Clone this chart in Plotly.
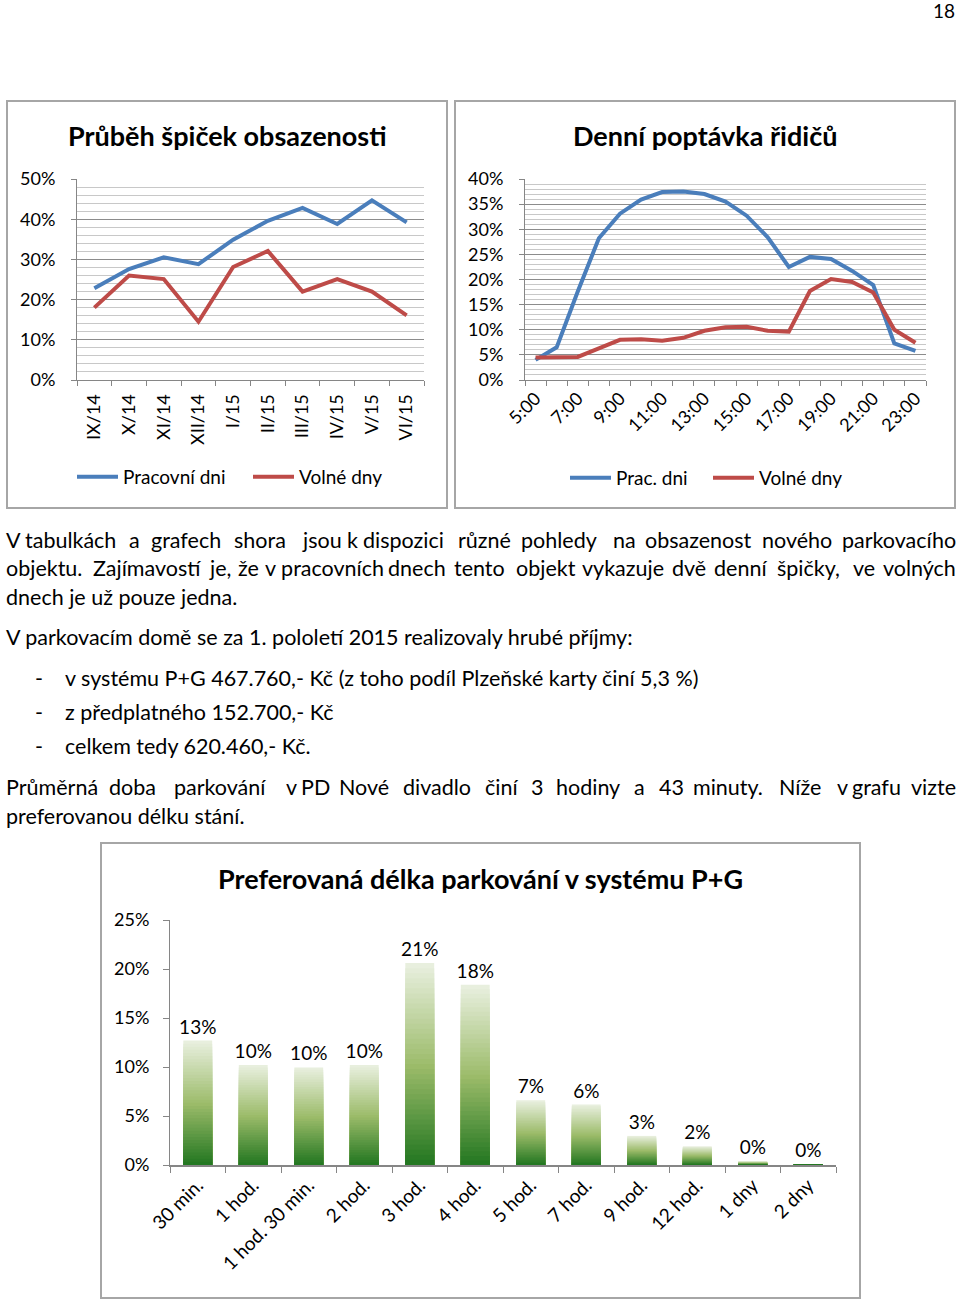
import plotly.graph_objects as go

# ---------------- data ----------------
months = ["IX/14", "X/14", "XI/14", "XII/14", "I/15", "II/15", "III/15", "IV/15", "V/15", "VI/15"]
peak_work = [0.228, 0.276, 0.305, 0.288, 0.349, 0.396, 0.428, 0.388, 0.447, 0.392]
peak_free = [0.180, 0.260, 0.251, 0.145, 0.281, 0.321, 0.220, 0.251, 0.220, 0.161]

hours = ["5:00", "6:00", "7:00", "8:00", "9:00", "10:00", "11:00", "12:00", "13:00", "14:00",
         "15:00", "16:00", "17:00", "18:00", "19:00", "20:00", "21:00", "22:00", "23:00"]
hour_labels = ["5:00", "", "7:00", "", "9:00", "", "11:00", "", "13:00", "", "15:00", "",
               "17:00", "", "19:00", "", "21:00", "", "23:00"]
demand_work = [0.040, 0.065, 0.176, 0.282, 0.331, 0.359, 0.374, 0.375, 0.370, 0.355,
               0.327, 0.284, 0.225, 0.245, 0.241, 0.217, 0.189, 0.073, 0.058]
demand_free = [0.045, 0.045, 0.046, 0.063, 0.080, 0.081, 0.078, 0.084, 0.098, 0.105,
               0.106, 0.098, 0.096, 0.177, 0.201, 0.195, 0.174, 0.100, 0.074]

durations = ["30 min.", "1 hod.", "1 hod. 30 min.", "2 hod.", "3 hod.", "4 hod.", "5 hod.",
             "7 hod.", "9 hod.", "12 hod.", "1 dny", "2 dny"]
duration_share = [0.127, 0.102, 0.0996, 0.102, 0.206, 0.184, 0.066, 0.0617, 0.0297, 0.019, 0.0037, 0.0005]

# ---------------- helpers ----------------
W, H = 960, 1300
FONT = "Lato, 'Open Sans', sans-serif"
BLUE = "#4A7EBB"
RED = "#BE4B48"
AXIS = "#868686"


def px(x):
    return x / W


def py(y):
    return 1 - y / H


fig = go.Figure()

# chart 1 lines
fig.add_trace(go.Scatter(x=months, y=peak_work, mode="lines", name="Pracovní dni",
                         line=dict(color=BLUE, width=4), xaxis="x", yaxis="y", legend="legend"))
fig.add_trace(go.Scatter(x=months, y=peak_free, mode="lines", name="Volné dny",
                         line=dict(color=RED, width=4), xaxis="x", yaxis="y", legend="legend3"))

# chart 2 lines
fig.add_trace(go.Scatter(x=hours, y=demand_work, mode="lines", name="Prac. dni",
                         line=dict(color=BLUE, width=4), xaxis="x2", yaxis="y2", legend="legend2"))
fig.add_trace(go.Scatter(x=hours, y=demand_free, mode="lines", name="Volné dny",
                         line=dict(color=RED, width=4), xaxis="x2", yaxis="y2", legend="legend4"))

# chart 3 gradient bars (overlaid layers of decreasing height)
stops = [(0.0, (30, 116, 30)), (0.5, (155, 187, 105)), (1.0, (232, 239, 222))]


def grad(f):
    for (f0, c0), (f1, c1) in zip(stops[:-1], stops[1:]):
        if f0 <= f <= f1:
            t = (f - f0) / (f1 - f0)
            return "rgb(%d,%d,%d)" % tuple(round(a + (b - a) * t) for a, b in zip(c0, c1))
    return "rgb(%d,%d,%d)" % stops[-1][1]


N = 40
for k in range(N):
    f = 1 - k / N
    fig.add_trace(go.Bar(
        x=durations, y=[v * f for v in duration_share],
        marker=dict(color=grad(f), line=dict(width=0)),
        xaxis="x3", yaxis="y3", showlegend=False, hoverinfo="skip",
        text=[f"{v:.0%}" for v in duration_share] if k == 0 else None,
        textposition="outside" if k == 0 else "none",
        constraintext="none",
        textfont=dict(size=19, color="black", family=FONT),
        cliponaxis=False,
    ))

tickfont = dict(size=18, color="black", family=FONT)


def legend_at(x_line, y):
    return dict(orientation="h", x=px(x_line - 5), y=py(y), xanchor="left", yanchor="middle",
                font=dict(size=19, family=FONT), bgcolor="rgba(0,0,0,0)", itemwidth=41)


fig.update_layout(
    width=W, height=H, autosize=False,
    margin=dict(l=0, r=0, t=0, b=0, pad=0, autoexpand=False),
    paper_bgcolor="white", plot_bgcolor="white",
    font=dict(family=FONT, color="black"),
    barmode="overlay", bargap=0.48,
    xaxis=dict(domain=[px(77), px(424)], anchor="y", type="category",
               tickson="boundaries", ticks="outside", ticklen=5, tickcolor=AXIS,
               showline=True, linecolor=AXIS, showgrid=False, tickangle=-90,
               tickfont=tickfont, ticklabelstandoff=6, range=[-0.5, 9.5], automargin=False),
    yaxis=dict(domain=[py(380), py(179)], anchor="x", range=[0, 0.5], dtick=0.1,
               tickformat=".0%", showline=True, linecolor=AXIS, ticks="outside",
               ticklen=5, tickcolor=AXIS, showgrid=True, gridcolor="#8c8c8c",
               gridwidth=1, zeroline=False, tickfont=tickfont, ticklabelstandoff=12,
               automargin=False,
               minor=dict(dtick=0.02, showgrid=True, gridcolor="#c8c8c8", gridwidth=1)),
    xaxis2=dict(domain=[px(525), px(926)], anchor="y2", type="category",
                tickson="boundaries", ticks="outside", ticklen=5, tickcolor=AXIS,
                showline=True, linecolor=AXIS, showgrid=False, tickangle=-45,
                tickmode="array", tickvals=hours, ticktext=hour_labels,
                tickfont=tickfont, range=[-0.5, 18.5], automargin=False),
    yaxis2=dict(domain=[py(380), py(179)], anchor="x2", range=[0, 0.4], dtick=0.05,
                tickformat=".0%", showline=True, linecolor=AXIS, ticks="outside",
                ticklen=5, tickcolor=AXIS, showgrid=True, gridcolor="#8c8c8c",
                gridwidth=1, zeroline=False, tickfont=tickfont, ticklabelstandoff=12,
                automargin=False,
                minor=dict(dtick=0.01, showgrid=True, gridcolor="#c8c8c8", gridwidth=1)),
    xaxis3=dict(domain=[px(170), px(836)], anchor="y3", type="category",
                tickson="boundaries", ticks="outside", ticklen=6, tickcolor=AXIS,
                showline=True, linecolor=AXIS, linewidth=1.5, showgrid=False,
                tickangle=-45, tickfont=dict(size=19, color="black", family=FONT),
                range=[-0.5, 11.5], automargin=False),
    yaxis3=dict(domain=[py(1165), py(920)], anchor="x3", range=[0, 0.25], dtick=0.05,
                tickformat=".0%", showline=True, linecolor=AXIS, ticks="outside",
                ticklen=6, tickcolor=AXIS, showgrid=False, zeroline=False,
                tickfont=tickfont, ticklabelstandoff=10, automargin=False),
    legend=legend_at(77, 477),
    legend3=legend_at(253, 477),
    legend2=legend_at(570, 478),
    legend4=legend_at(713, 478),
    showlegend=True,
)

# boxes
shapes = []
for x0, y0, x1, y1 in [(7, 101, 447, 508), (455, 101, 955, 508), (101, 843, 860, 1298)]:
    shapes.append(dict(type="rect", xref="paper", yref="paper", x0=px(x0), x1=px(x1),
                       y0=py(y1), y1=py(y0), line=dict(color="#a6a6a6", width=2),
                       fillcolor="rgba(0,0,0,0)", layer="below"))
fig.update_layout(shapes=shapes)

ann = []
BODY = 21.5


def text(x, y, s, size=BODY, anchor="left", bold=False):
    ann.append(dict(x=px(x), y=py(y), xref="paper", yref="paper", text=f"<b>{s}</b>" if bold else s,
                    showarrow=False, xanchor=anchor, yanchor="middle",
                    font=dict(size=size, family=FONT, color="black")))


# titles and page number
text(957, 11, "18", size=19, anchor="right")
text(227, 136, "Průběh špiček obsazenosti", size=27, anchor="center", bold=True)
text(705, 136, "Denní poptávka řidičů", size=27, anchor="center", bold=True)
text(480, 878, "Preferovaná délka parkování v systému P+G", size=27, anchor="center", bold=True)


def justified(y, words):
    for i, (x, w) in enumerate(words):
        if i == len(words) - 1:
            text(958, y, w, anchor="right")
        else:
            text(x, y, w)


justified(540, [(4, "V"), (23, "tabulkách"), (127, "a"), (149, "grafech"), (232, "shora"),
                (300, "jsou"), (345, "k"), (361, "dispozici"), (456, "různé"), (519, "pohledy"),
                (611, "na"), (643, "obsazenost"), (760, "nového"), (844, "parkovacího")])
justified(568, [(4, "objektu."), (91, "Zajímavostí"), (207, "je,"), (236, "že"),
                (263, "v pracovních"), (386, "dnech"), (452, "tento"), (514, "objekt"),
                (580, "vykazuje"), (670, "dvě"), (712, "denní"), (775, "špičky,"),
                (851, "ve"), (884, "volných")])
text(4, 597, "dnech je už pouze jedna.")
text(4, 637, "V parkovacím domě se za 1. pololetí 2015 realizovaly hrubé příjmy:")
for yy, s in [(678, "v systému P+G 467.760,- Kč (z toho podíl Plzeňské karty činí 5,3 %)"),
              (712, "z předplatného 152.700,- Kč"),
              (746, "celkem tedy 620.460,- Kč.")]:
    text(33, yy, "-")
    text(63, yy, s)
justified(787, [(4, "Průměrná"), (107, "doba"), (172, "parkování"), (284, "v"), (299, "PD"),
                (337, "Nové"), (401, "divadlo"), (483, "činí"), (529, "3"), (554, "hodiny"),
                (632, "a"), (657, "43"), (691, "minuty."), (777, "Níže"), (835, "v"),
                (850, "grafu"), (915, "vizte")])
text(4, 816, "preferovanou délku stání.")

fig.update_layout(annotations=ann)

fig.write_html("out.html", config={"displayModeBar": False},
               post_script="document.body.style.margin='0';")
